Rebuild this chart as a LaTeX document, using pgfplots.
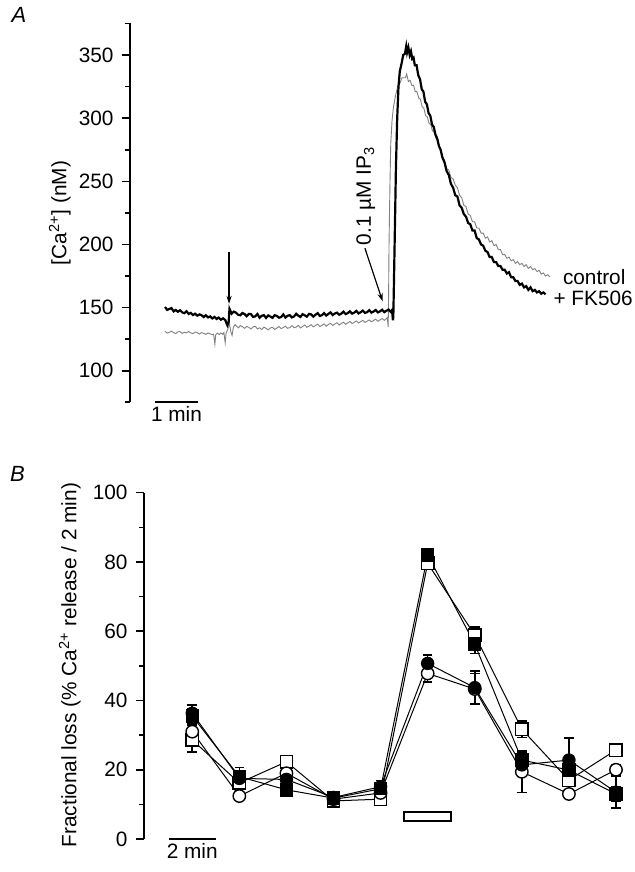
\documentclass[border=0pt]{standalone}
\usepackage{fontspec}
\setmainfont{Liberation Sans}
\usepackage{pgfplots}
\pgfplotsset{compat=1.18}
\usetikzlibrary{arrows.meta}

\newcommand\fs{\fontsize{10.4pt}{12pt}\selectfont}

% panel A traces: time (min), [Ca2+] (nM)
\pgfplotstableread{
t v
0.00 150.5
0.05 148.2
0.10 148.9
0.15 149.6
0.20 147.0
0.25 148.1
0.30 146.7
0.35 147.9
0.40 146.2
0.45 145.6
0.50 147.1
0.55 145.0
0.60 145.8
0.65 144.1
0.70 145.2
0.75 143.6
0.80 144.6
0.85 144.0
0.90 142.5
0.95 143.9
1.00 142.2
1.05 143.0
1.10 141.4
1.15 142.6
1.20 141.0
1.25 142.1
1.30 140.4
1.35 141.5
1.40 140.2
1.45 136.0
1.48 138.5
1.50 149.0
1.55 145.2
1.60 146.8
1.65 146.0
1.70 144.3
1.75 143.9
1.80 145.7
1.85 144.9
1.90 143.2
1.95 145.0
2.00 144.8
2.05 142.6
2.10 143.1
2.15 144.9
2.20 142.0
2.25 143.5
2.30 144.0
2.35 141.8
2.40 143.8
2.45 142.9
2.50 141.9
2.55 144.0
2.60 143.4
2.65 142.0
2.70 142.5
2.75 144.6
2.80 142.1
2.85 143.5
2.90 144.0
2.95 142.2
3.00 143.0
3.05 145.1
3.10 143.6
3.15 142.6
3.20 144.8
3.25 143.9
3.30 142.8
3.35 145.0
3.40 144.6
3.45 142.9
3.50 144.3
3.55 145.6
3.60 143.4
3.65 144.0
3.70 145.6
3.75 143.7
3.80 145.0
3.85 146.2
3.90 144.1
3.95 145.3
4.00 146.0
4.05 144.3
4.10 145.2
4.15 146.8
4.20 144.9
4.25 145.6
4.30 147.1
4.35 145.2
4.40 146.0
4.45 147.4
4.50 145.4
4.55 146.3
4.60 147.6
4.65 145.8
4.70 146.4
4.75 148.0
4.80 146.0
4.85 146.9
4.90 148.1
4.95 146.2
5.00 147.0
5.05 148.3
5.10 146.4
5.15 147.5
5.20 148.4
5.25 146.6
5.28 148.0
5.30 140.0
5.31 143.0
5.34 200
5.37 260
5.40 300
5.43 325
5.46 337
5.50 343
5.54 350
5.58 351
5.61 357
5.63 352
5.66 356
5.69 350
5.72 353
5.75 347
5.78 348
5.81 342
5.85 342
5.89 334
5.93 331
5.97 323
6.01 321
6.05 313
6.09 311
6.13 304
6.17 302
6.21 295
6.25 293
6.29 287
6.33 284
6.37 278
6.41 275
6.45 269
6.50 265
6.55 258
6.60 255
6.65 248
6.70 245
6.75 239
6.80 238
6.85 231
6.90 229
6.95 224
7.00 222
7.05 217
7.10 216
7.15 211
7.20 211
7.25 205
7.30 204
7.35 200
7.40 199
7.45 195
7.50 194
7.55 190
7.60 190
7.65 186
7.70 186
7.75 183
7.80 183
7.85 180
7.90 180
7.95 177
8.00 178
8.05 174
8.10 174
8.15 171
8.20 171
8.25 168
8.30 169
8.35 166
8.40 167
8.45 164
8.50 166
8.55 163
8.60 164
8.65 162
8.70 163
8.75 161
8.80 162
8.85 160.5
}\fkfive

\pgfplotstableread{
t v
0.00 131.2
0.05 129.8
0.10 130.4
0.15 131.3
0.20 130.1
0.25 129.4
0.30 130.8
0.35 131.0
0.40 129.6
0.45 130.5
0.50 129.9
0.55 131.1
0.60 130.0
0.65 129.3
0.70 130.6
0.75 130.1
0.80 129.0
0.85 130.2
0.90 129.6
0.95 128.8
1.00 129.9
1.05 129.2
1.10 128.6
1.13 129.0
1.16 121.0
1.18 128.5
1.22 129.8
1.26 128.6
1.30 129.9
1.34 128.8
1.37 130.2
1.40 122.0
1.42 129.5
1.46 133.0
1.50 137.0
1.53 131.0
1.56 128.0
1.59 134.5
1.63 136.5
1.67 135.0
1.71 134.0
1.75 135.8
1.80 134.9
1.85 133.6
1.90 135.1
1.95 134.3
2.00 133.0
2.05 134.8
2.10 135.2
2.15 133.1
2.20 134.0
2.25 132.6
2.30 134.5
2.35 133.6
2.40 132.4
2.45 133.9
2.50 134.3
2.55 132.7
2.60 133.8
2.65 135.0
2.70 133.4
2.75 134.2
2.80 135.3
2.85 133.6
2.90 134.1
2.95 135.7
3.00 134.0
3.05 134.6
3.10 135.9
3.15 133.9
3.20 135.0
3.25 136.2
3.30 134.4
3.35 135.3
3.40 136.5
3.45 134.7
3.50 135.8
3.55 136.9
3.60 135.0
3.65 136.0
3.70 137.1
3.75 135.3
3.80 136.6
3.85 137.5
3.90 135.8
3.95 137.0
4.00 138.0
4.05 136.2
4.10 137.4
4.15 138.4
4.20 136.8
4.25 137.9
4.30 139.0
4.35 137.3
4.40 138.3
4.45 139.4
4.50 137.8
4.55 138.8
4.60 139.9
4.65 138.2
4.70 139.3
4.75 140.2
4.80 138.7
4.85 139.8
4.90 140.8
4.95 139.2
5.00 140.3
5.05 141.3
5.10 139.9
5.15 141.2
5.17 142.0
5.19 134.6
5.20 160
5.21 200
5.23 245
5.25 280
5.28 298
5.31 308
5.35 316
5.39 322
5.43 327
5.47 328
5.51 332
5.55 332
5.59 332
5.62 335
5.66 329
5.70 330
5.74 326
5.78 326
5.82 321
5.86 321
5.90 316
5.94 315
5.98 309
6.02 308
6.06 302
6.10 301
6.14 296
6.18 295
6.22 290
6.26 289
6.30 284
6.34 282
6.38 277
6.42 275
6.46 269
6.50 267
6.55 260
6.60 259
6.65 253
6.70 252
6.75 247
6.80 245
6.85 239
6.90 237
6.95 231
7.00 230
7.05 224
7.10 223
7.15 218
7.20 218
7.25 213
7.30 213
7.35 209
7.40 209
7.45 205
7.50 206
7.55 202
7.60 203
7.65 199
7.70 200
7.75 196
7.80 196
7.85 192
7.90 192
7.95 189
8.00 190
8.05 187
8.10 188
8.15 185
8.20 186.5
8.25 184
8.30 185
8.35 182.5
8.40 184
8.45 181
8.50 182.5
8.55 180
8.60 181
8.65 178.5
8.70 179.5
8.75 176.5
8.80 177.5
8.85 175
8.90 176
8.95 174.4
}\control

\begin{document}
\begin{tikzpicture}[font=\fs]
\useasboundingbox (0,0) rectangle (317pt,436pt);

\pgfplotsset{
  panel/.style={
    scale only axis,
    axis x line=none,
    axis y line=left,
    axis line style={-, line width=0.8pt},
    tick align=outside,
    tick style={line width=0.8pt, black},
    major tick length=4.2pt,
    minor tick length=2.5pt,
    xtick=\empty,
    clip=false,
    font=\fs,
    tick label style={font=\fs},
    /pgf/number format/assume math mode=true,
    yticklabel style={xshift=-0.5pt},
  }
}

% ---------- A ----------
\begin{axis}[panel,
  at={(65pt,234.85pt)}, anchor=south west,
  width=215pt, height=189.4pt,
  xmin=-0.814, xmax=9.186,
  ymin=75, ymax=375,
  ytick={100,150,...,350},
  minor ytick={75,125,...,375},
  every axis y label/.style={at={(axis description cs:-0.163,0.5)}, anchor=center, rotate=90},
  ylabel={[Ca\textsuperscript{2+}] (nM)},
]
\addplot[black!50, line width=0.45pt] table[x=t, y=v] {\control};
\addplot[black, line width=1.1pt] table[x=t, y=v] {\fkfive};

\draw[line width=0.6pt, -{Stealth[length=4pt, width=2.6pt]}] (axis cs:1.49,194) -- (axis cs:1.49,153);
\draw[line width=0.6pt, -{Stealth[length=4pt, width=2.6pt]}] (axis cs:4.65,197) -- (axis cs:5.06,155);
\node[rotate=90] at (axis cs:4.67,238.5) {0.1 µM IP\textsubscript{3}};
\node[anchor=west, inner sep=1pt] at (axis cs:9.2,174.4) {control};
\node[anchor=west, inner sep=1pt] at (axis cs:8.98,157.6) {+ FK506};

% 1 min scale bar
\draw[line width=1pt] (axis cs:-0.233,75) -- (axis cs:0.767,75);
\node[anchor=north, inner sep=2pt] at (axis cs:0.267,75) {1 min};
\end{axis}

% ---------- B ----------
\begin{axis}[panel,
  at={(72pt,16.5pt)}, anchor=south west,
  width=240.7pt, height=173.15pt,
  xmin=-2.05, xmax=18.4,
  ymin=0, ymax=100,
  ytick={0,20,...,100},
  minor ytick={10,30,...,90},
  every axis y label/.style={at={(axis description cs:-0.154,0.502)}, anchor=center, rotate=90},
  ylabel={Fractional loss (\% Ca\textsuperscript{2+} release / 2 min)},
  every axis plot/.append style={
    black, line width=0.5pt, mark size=3.1pt,
    error bars/y dir=both, error bars/y explicit,
    error bars/error bar style={line width=0.8pt, solid},
    error bars/error mark options={rotate=90, mark size=2.4pt, line width=0.8pt},
  },
]
% open squares
\addplot[mark=square*, mark options={fill=white, line width=0.7pt}] coordinates {
 (0,28.6) +- (0,3.4) (2,16.2) +- (0,1.5) (4,22.3) +- (0,1.2) (6,11.0) +- (0,0.8)
 (8,11.5) +- (0,1.3) (10,79.6) +- (0,1.0) (12,58.9) +- (0,2.4) (14,31.7) +- (0,2.4)
 (16,17.0) +- (0,1.8) (18,25.7) +- (0,1.5)};
% open circles
\addplot[mark=*, mark options={fill=white, line width=0.7pt}] coordinates {
 (0,31.0) +- (0,2.0) (2,12.4) +- (0,1.0) (4,19.0) +- (0,1.2) (6,11.5) +- (0,0.8)
 (8,13.3) +- (0,1.0) (10,47.8) +- (0,2.5) (12,43.3) +- (0,4.5) (14,19.4) +- (0,6.0)
 (16,13.0) +- (0,1.2) (18,20.0) +- (0,1.5)};
% filled squares
\addplot[mark=square*, mark options={fill=black}] coordinates {
 (0,35.5) +- (0,2.0) (2,18.0) +- (0,2.6) (4,14.2) +- (0,1.4) (6,11.8) +- (0,0.8)
 (8,14.5) +- (0,1.5) (10,82.0) +- (0,1.0) (12,56.3) +- (0,2.7) (14,22.8) +- (0,2.0)
 (16,19.9) +- (0,2.0) (18,13.0) +- (0,2.0)};
% filled circles
\addplot[mark=*, mark options={fill=black}] coordinates {
 (0,36.3) +- (0,2.4) (2,17.5) +- (0,2.0) (4,17.2) +- (0,1.5) (6,12.0) +- (0,1.0)
 (8,15.1) +- (0,1.8) (10,50.7) +- (0,2.4) (12,43.7) +- (0,4.8) (14,21.4) +- (0,3.0)
 (16,22.8) +- (0,6.3) (18,13.5) +- (0,4.5)};

% application bar
\draw[line width=1pt, fill=white] (axis cs:9,5.2) rectangle (axis cs:11,7.9);
% 2 min scale bar
\draw[line width=1pt] (axis cs:-1,0) -- (axis cs:1,0);
\node[anchor=north, inner sep=2pt] at (axis cs:0,0) {2 min};
\end{axis}

\node at (9.5pt,428.5pt) {\fontsize{11pt}{13pt}\selectfont\itshape A};
\node at (8.75pt,199.25pt) {\fontsize{11pt}{13pt}\selectfont\itshape B};
\end{tikzpicture}
\end{document}
